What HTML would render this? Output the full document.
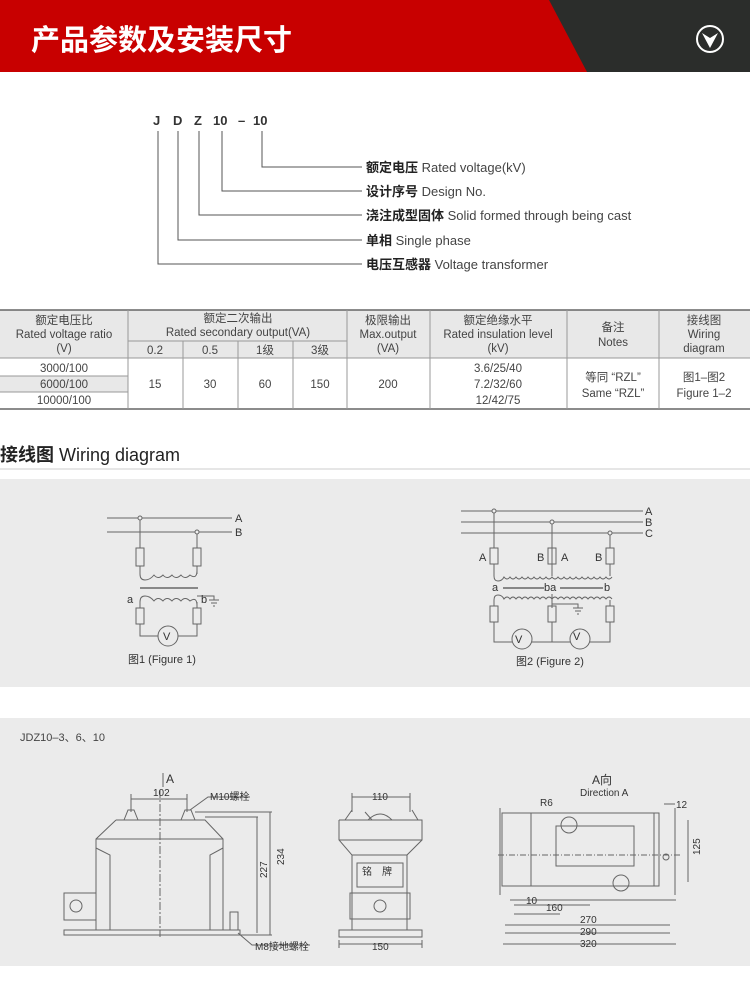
<!DOCTYPE html>
<html><head><meta charset="utf-8"><style>
body{margin:0;width:750px;height:992px;background:#fff;overflow:hidden;font-family:"Liberation Sans","Noto Sans CJK SC",sans-serif;}
svg{display:block}
text{font-family:"Liberation Sans","Noto Sans CJK SC",sans-serif;}
</style></head><body>
<svg width="750" height="992" viewBox="0 0 750 992">
<rect x="0" y="0" width="750" height="72" fill="#2b2d2b"/>
<polygon points="0,0 549,0 587,72 0,72" fill="#c80000"/>
<text x="31" y="50" font-size="29" fill="#fff" font-weight="bold">产品参数及安装尺寸</text>
<circle cx="710" cy="39" r="13" fill="none" stroke="#fff" stroke-width="2"/>
<polygon points="702,33 710,38 718,33 710,48" fill="#fff"/>

<g font-size="13" fill="#333" font-weight="bold">
<text x="153" y="125">J</text><text x="173" y="125">D</text><text x="194" y="125">Z</text><text x="213" y="125">10</text><text x="238" y="125">–</text><text x="253" y="125">10</text>
</g>
<g stroke="#555" fill="none" stroke-width="1">
<path d="M262,131V167H362"/><path d="M222,131V191H362"/><path d="M199,131V215H362"/><path d="M178,131V240H362"/><path d="M158,131V264H362"/>
</g>
<g font-size="13" fill="#444">
<text x="366" y="172"><tspan font-weight="bold" fill="#222">额定电压</tspan> Rated voltage(kV)</text>
<text x="366" y="196"><tspan font-weight="bold" fill="#222">设计序号</tspan> Design No.</text>
<text x="366" y="220"><tspan font-weight="bold" fill="#222">浇注成型固体</tspan> Solid formed through being cast</text>
<text x="366" y="245"><tspan font-weight="bold" fill="#222">单相</tspan> Single phase</text>
<text x="366" y="269"><tspan font-weight="bold" fill="#222">电压互感器</tspan> Voltage transformer</text>
</g>

<rect x="0" y="310" width="750" height="48" fill="#e8e8e8"/>
<rect x="0" y="376" width="128" height="16" fill="#e8e8e8"/>
<g stroke="#999" stroke-width="1" fill="none">
<line x1="0" y1="310" x2="750" y2="310" stroke="#666" stroke-width="1.5"/>
<line x1="0" y1="409" x2="750" y2="409" stroke="#666" stroke-width="1.5"/>
<line x1="0" y1="358" x2="750" y2="358"/>
<line x1="128" y1="341" x2="347" y2="341"/>
<line x1="0" y1="376" x2="128" y2="376"/><line x1="0" y1="392" x2="128" y2="392"/>
<line x1="128" y1="310" x2="128" y2="409"/><line x1="183" y1="341" x2="183" y2="409"/><line x1="238" y1="341" x2="238" y2="409"/><line x1="293" y1="341" x2="293" y2="409"/><line x1="347" y1="310" x2="347" y2="409"/><line x1="430" y1="310" x2="430" y2="409"/><line x1="567" y1="310" x2="567" y2="409"/><line x1="659" y1="310" x2="659" y2="409"/>
</g>
<g font-size="11.5" fill="#444" text-anchor="middle">
<text x="64" y="324">额定电压比</text><text x="64" y="338">Rated voltage ratio</text><text x="64" y="352">(V)</text>
<text x="238" y="322">额定二次输出</text><text x="238" y="336">Rated secondary output(VA)</text>
<text x="155" y="354">0.2</text><text x="210" y="354">0.5</text><text x="265" y="354">1级</text><text x="320" y="354">3级</text>
<text x="388" y="324">极限输出</text><text x="388" y="338">Max.output</text><text x="388" y="352">(VA)</text>
<text x="498" y="324">额定绝缘水平</text><text x="498" y="338">Rated insulation level</text><text x="498" y="352">(kV)</text>
<text x="613" y="331">备注</text><text x="613" y="346">Notes</text>
<text x="704" y="324">接线图</text><text x="704" y="338">Wiring</text><text x="704" y="352">diagram</text>
<text x="64" y="372">3000/100</text><text x="64" y="388">6000/100</text><text x="64" y="404">10000/100</text>
<text x="155" y="388">15</text><text x="210" y="388">30</text><text x="265" y="388">60</text><text x="320" y="388">150</text><text x="388" y="388">200</text>
<text x="498" y="372">3.6/25/40</text><text x="498" y="388">7.2/32/60</text><text x="498" y="404">12/42/75</text>
<text x="613" y="381">等同 “RZL”</text><text x="613" y="397">Same “RZL”</text>
<text x="704" y="381">图1–图2</text><text x="704" y="397">Figure 1–2</text>
</g>

<text x="0" y="461" font-size="18" fill="#222" font-weight="bold">接线图 <tspan font-weight="normal">Wiring diagram</tspan></text>
<line x1="0" y1="469" x2="750" y2="469" stroke="#ccc"/>

<rect x="0" y="479" width="750" height="208" fill="#ebebeb"/>
<g stroke="#666" fill="none" stroke-width="1">
<line x1="107" y1="518" x2="232" y2="518"/><line x1="107" y1="532" x2="232" y2="532"/>
<path d="M140,518V548M140,566V574M197,532V548M197,566V574"/>
<rect x="136" y="548" width="8" height="18"/><rect x="193" y="548" width="8" height="18"/>
<path d="M140,574q0,6 5,6 q5,0 9,-5 q4,5 9,0 q4,5 9,0 q4,5 9,0 q4,5 9,0 q7,5 7,-5"/>
<line x1="140" y1="588" x2="198" y2="588" stroke-width="2" stroke="#888"/>
<path d="M140,602q0,-6 5,-6 q5,0 9,5 q4,-5 9,0 q4,-5 9,0 q4,-5 9,0 q4,-5 9,0 q7,-5 7,5"/>
<path d="M197,596H214V600M209,600h10M211,603h6M213,606h2"/>
<path d="M140,602V608M140,624V636H158M197,602V608M197,624V636H178"/>
<rect x="136" y="608" width="8" height="16"/><rect x="193" y="608" width="8" height="16"/>
<circle cx="168" cy="636" r="10"/>
<circle cx="140" cy="518" r="2" fill="#eee"/><circle cx="197" cy="532" r="2" fill="#eee"/>
<line x1="461" y1="511" x2="643" y2="511"/><line x1="461" y1="522" x2="643" y2="522"/><line x1="461" y1="533" x2="643" y2="533"/>
<path d="M494,511V548M494,564V576M552,522V576M610,533V548M610,564V576"/>
<rect x="490" y="548" width="8" height="16"/><rect x="548" y="548" width="8" height="16"/><rect x="606" y="548" width="8" height="16"/>
<path d="M494,576q0,5 4,5 q4,0 6,-4 q3,4 6,0 q3,4 6,0 q3,4 6,0 q3,4 6,0 q3,4 6,0 q3,4 6,0 q3,4 6,0 q3,4 6,0 q3,4 6,0 q3,4 6,0 q3,4 6,0 q3,4 6,0 q3,4 6,0 q3,4 6,0 q3,4 6,0 q3,4 6,0 q3,4 6,0 q3,4 6,0"/>
<line x1="503" y1="588" x2="544" y2="588" stroke-width="1.5"/><line x1="560" y1="588" x2="603" y2="588" stroke-width="1.5"/>
<path d="M494,600q0,-5 4,-5 q4,0 6,4 q3,-4 6,0 q3,-4 6,0 q3,-4 6,0 q3,-4 6,0 q3,-4 6,0 q3,-4 6,0 q3,-4 6,0 q3,-4 6,0 q3,-4 6,0 q3,-4 6,0 q3,-4 6,0 q3,-4 6,0 q3,-4 6,0 q3,-4 6,0 q3,-4 6,0 q3,-4 6,0 q3,-4 6,0 q3,-4 6,0"/>
<path d="M552,594V608M552,622V642M552,604H578V608M573,608h10M575,611h6M577,614h2"/>
<path d="M494,600V606M494,622V642H512M610,600V606M610,622V642H590M532,642H570"/>
<rect x="490" y="606" width="8" height="16"/><rect x="548" y="606" width="8" height="16"/><rect x="606" y="606" width="8" height="16"/>
<circle cx="522" cy="639" r="10" fill="#ebebeb"/><circle cx="580" cy="639" r="10" fill="#ebebeb"/>
<circle cx="494" cy="511" r="2" fill="#eee"/><circle cx="552" cy="522" r="2" fill="#eee"/><circle cx="610" cy="533" r="2" fill="#eee"/>
</g>
<g font-size="11" fill="#333">
<text x="235" y="522">A</text><text x="235" y="536">B</text>
<text x="127" y="603">a</text><text x="201" y="603">b</text>
<text x="163" y="640">V</text><text x="573" y="640">V</text><text x="515" y="643">V</text>
<text x="128" y="663" font-size="11">图1 (Figure 1)</text>
<text x="645" y="515">A</text><text x="645" y="526">B</text><text x="645" y="537">C</text>
<text x="479" y="561">A</text><text x="537" y="561">B</text><text x="561" y="561">A</text><text x="595" y="561">B</text>
<text x="492" y="591">a</text><text x="544" y="591">ba</text><text x="604" y="591">b</text>
<text x="516" y="665">图2 (Figure 2)</text>
</g>

<rect x="0" y="718" width="750" height="248" fill="#ebebeb"/>
<text x="20" y="741" font-size="11" fill="#444">JDZ10–3、6、10</text>
<g stroke="#666" fill="none" stroke-width="1">
<!-- front -->
<path d="M116,820H205L223,839V930M116,820L96,839V930M96,839H223"/>
<path d="M96,848L110,855V930M223,848L210,855V930M96,930H223"/>
<rect x="64" y="893" width="32" height="27"/><circle cx="76" cy="906" r="6"/>
<rect x="64" y="930" width="176" height="5"/>
<path d="M124,820L128,810H134L138,820M181,820L185,810H191L195,820"/>
<path d="M131,799H187M131,794V812M187,794V812"/>
<line x1="160" y1="790" x2="160" y2="937" stroke-dasharray="8,2,2,2"/>
<path d="M163,773V787"/>
<path d="M195,812H272M205,817H258M257,817V933M270,812V935M240,935H272"/>
<rect x="230" y="912" width="8" height="18"/>
<path d="M238,933L252,945H310M190,810L208,797H250"/>
<!-- side -->
<path d="M339,820H422V840L407,855V930M339,820V840L352,855V930M339,840H422M352,855H407"/>
<path d="M345,820L352,810M365,812L372,820M412,810L418,820"/>
<path d="M368,820Q380,808 392,820"/>
<rect x="357" y="863" width="46" height="24"/>
<rect x="350" y="893" width="60" height="26"/><circle cx="380" cy="906" r="6"/>
<rect x="339" y="930" width="83" height="7"/>
<path d="M352,797H410M352,793V812M410,793V812M339,940V948M422,940V948M339,944H422"/>
<!-- direction A -->
<rect x="502" y="813" width="157" height="73"/>
<rect x="531" y="813" width="123" height="73"/>
<rect x="556" y="826" width="78" height="40"/>
<circle cx="569" cy="825" r="8"/><circle cx="621" cy="883" r="8"/><circle cx="666" cy="857" r="3"/>
<path d="M500,808V895M675,808V895M510,900H676M505,925H670M505,933H670M503,944H676M514,905H590M514,914H560"/>
<path d="M688,820V882M664,804H675"/>
<line x1="498" y1="855" x2="680" y2="855" stroke-dasharray="6,2,1,2"/>
</g>
<g font-size="10" fill="#333">
<text x="166" y="783" font-size="12">A</text><text x="153" y="796">102</text><text x="210" y="800">M10螺栓</text>
<text x="255" y="890" transform="rotate(-90 255 878)">227</text><text x="269" y="890" transform="rotate(-90 264 870)">234</text>
<text x="255" y="950">M8接地螺栓</text>
<text x="372" y="800">110</text><text x="362" y="875">铭　牌</text><text x="372" y="950">150</text>
<text x="592" y="784" font-size="12">A向</text><text x="580" y="796">Direction A</text>
<text x="540" y="806">R6</text><text x="676" y="808">12</text>
<text x="693" y="862" transform="rotate(-90 693 855)">125</text>
<text x="526" y="904">10</text><text x="546" y="911">160</text><text x="580" y="923">270</text><text x="580" y="935">290</text><text x="580" y="947">320</text>
</g>
</svg>
</body></html>
